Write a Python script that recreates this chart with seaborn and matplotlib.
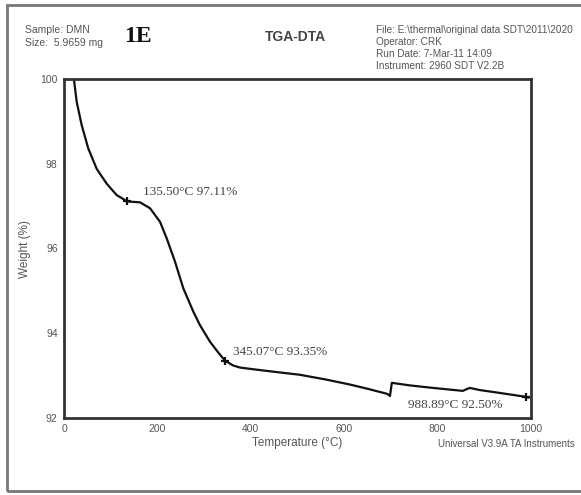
import matplotlib
matplotlib.use("Agg")
import matplotlib.pyplot as plt
import matplotlib.patches as mpatches
from matplotlib.ticker import MultipleLocator
import seaborn as sns
import pandas as pd

# TGA weight-loss curve (temperature in °C, weight in %)
temperature = [21.4, 27.2, 37.9, 52.0, 70.0, 91.4, 112.8, 135.5, 162.7, 184.2,
               205.6, 219.9, 237.7, 255.5, 276.9, 291.2, 312.6, 330.0, 345.07,
               362.0, 377.0, 420.0, 505.0, 560.0, 612.0, 650.0, 692.0, 698.0,
               702.0, 740.0, 790.0, 854.0, 862.0, 869.0, 890.0, 934.0, 988.89,
               995.0]
weight = [99.98, 99.46, 98.91, 98.36, 97.88, 97.53, 97.26, 97.11, 97.09, 96.95,
          96.63, 96.24, 95.69, 95.06, 94.51, 94.19, 93.80, 93.55, 93.35,
          93.24, 93.19, 93.13, 93.02, 92.91, 92.79, 92.69, 92.57, 92.52,
          92.83, 92.77, 92.71, 92.64, 92.68, 92.71, 92.66, 92.59, 92.50,
          92.48]

# Marked points on the curve
mark_temp = [135.50, 345.07, 988.89]
mark_weight = [97.11, 93.35, 92.50]

x_ticks = [0, 200, 400, 600, 800, 1000]
y_ticks = [92, 94, 96, 98, 100]

sns.set_style("white")
plt.rcParams['font.family'] = ['Liberation Sans', 'DejaVu Sans']

W, H = 581, 495
fig = plt.figure(figsize=(W / 100, H / 100), dpi=100)
ax = fig.add_axes([64 / W, 1 - 418 / H, (531 - 64) / W, (418 - 79) / H])

df = pd.DataFrame({"Temperature": temperature, "Weight": weight})
sns.lineplot(data=df, x="Temperature", y="Weight", sort=False, estimator=None,
             color="#111111", linewidth=1.6, ax=ax)
for ln in ax.lines:
    ln.set_solid_joinstyle("round")
    ln.set_solid_capstyle("round")
ax.plot(mark_temp, mark_weight, linestyle="none", marker="+", markersize=6,
        markeredgewidth=1.6, color="#111111")

ax.set_xlim(0, 1000)
ax.set_ylim(92, 100)
ax.set_xticks(x_ticks)
ax.set_yticks(y_ticks)
ax.xaxis.set_minor_locator(MultipleLocator(50))
ax.yaxis.set_minor_locator(MultipleLocator(0.5))
ax.tick_params(which="both", direction="inout", color="#333333", width=1.2,
               labelsize=7.5, labelcolor="#555555", pad=2)
ax.tick_params(which="major", length=5)
ax.tick_params(which="minor", length=3)
for s in ax.spines.values():
    s.set_color("#333333")
    s.set_linewidth(2)

ax.set_xlabel("Temperature (°C)", fontsize=8.5, color="#555555", labelpad=2)
ax.set_ylabel("Weight (%)", fontsize=8.5, color="#555555", labelpad=7)

# Point annotations
serif = ['Liberation Serif', 'DejaVu Serif']
labels = [f"{t:.2f}°C {w:.2f}%" for t, w in zip(mark_temp, mark_weight)]
offsets = [(11, 6.5), (6, 6), (-85, -6)]
for (t, w), lab, (dx, dy) in zip(zip(mark_temp, mark_weight), labels, offsets):
    ax.annotate(lab, (t, w), xytext=(dx, dy), textcoords="offset points",
                fontsize=9.5, family=serif, color="#444444", va="center")

# Header block
fig.text(25 / W, 1 - 30 / H, "Sample: DMN", fontsize=7.5, color="#555555", va="center")
fig.text(25 / W, 1 - 43 / H, "Size:  5.9659 mg", fontsize=7.5, color="#555555", va="center")
fig.text(124 / W, 1 - 37 / H, "1E", fontsize=17, fontweight="bold", family=serif,
         color="#111111", va="center")
fig.text(265 / W, 1 - 37 / H, "TGA-DTA", fontsize=10, fontweight="bold", color="#444444",
         va="center")
info = ["File: E:\\thermal\\original data SDT\\2011\\2020",
        "Operator: CRK",
        "Run Date: 7-Mar-11 14:09",
        "Instrument: 2960 SDT V2.2B"]
for i, line in enumerate(info):
    fig.text(376 / W, 1 - (30 + 12 * i) / H, line, fontsize=7.2, color="#555555",
             va="center")
fig.text(438 / W, 1 - 444 / H, "Universal V3.9A TA Instruments", fontsize=7,
         color="#555555", va="center")

# Outer frame around the whole report
frame = mpatches.Rectangle((7 / W, 1 - 491 / H), 1.2, (491 - 5) / H,
                           transform=fig.transFigure, fill=False,
                           edgecolor="#777777", linewidth=2, clip_on=False)
fig.patches.append(frame)

fig.savefig("out.png", dpi=100)
